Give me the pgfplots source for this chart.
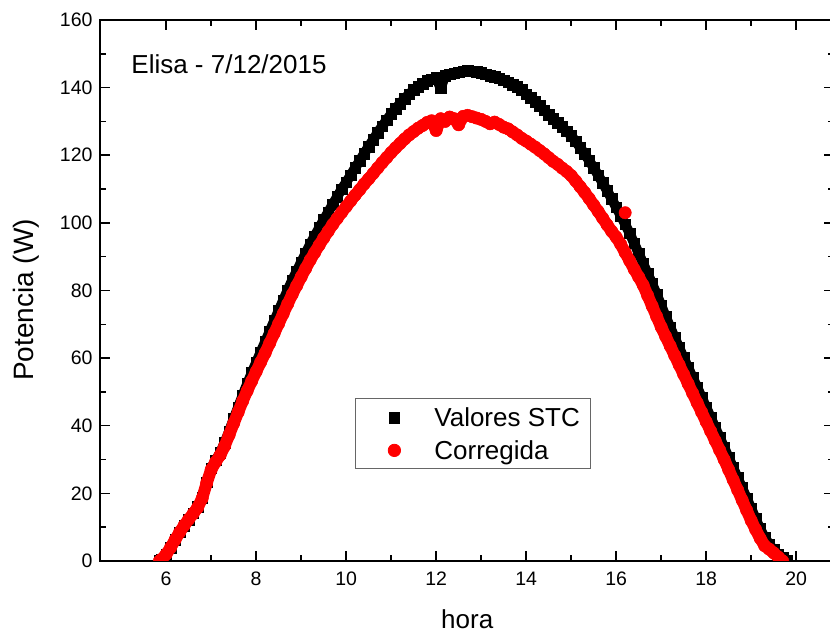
\documentclass[border=0pt]{standalone}
\usepackage{fontspec}
\setmainfont{Liberation Sans}
\usepackage{pgfplots}
\pgfplotsset{compat=1.18}
\usepackage{pgfplotstable}

\pgfplotstableread{
h p
5.85 0
5.9 0.5
6.0 2
6.1 4
6.2 6.3
6.3 8.5
6.4 10.5
6.5 12.3
6.6 14.1
6.7 16
6.8 18.8
6.9 23.3
7.0 27.4
7.1 29.8
7.2 32
7.3 35
7.4 38.4
7.5 42
7.6 45.5
7.7 49
7.8 52.4
7.9 55.6
8.0 58.7
8.1 61.8
8.2 64.8
8.3 67.9
8.4 71
8.5 74
8.6 77.1
8.7 80.1
8.8 83
8.9 85.7
9.0 88.4
9.1 91
9.2 93.7
9.3 96.1
9.4 98.5
9.5 100.9
9.6 103.1
9.7 105.5
9.8 107.7
9.9 110
10.0 112
10.1 114.1
10.2 116.3
10.3 118.3
10.4 120.5
10.5 122.6
10.6 124.6
10.7 126.7
10.8 128.6
10.9 130.4
11.0 132.2
11.1 133.8
11.2 135.3
11.3 136.8
11.4 138.1
11.5 139.3
11.6 140.3
11.7 141.2
11.8 142
11.9 142.5
12.0 143
12.1 139.8
12.2 143.6
12.3 144
12.4 144.3
12.5 144.6
12.6 144.8
12.7 145
12.8 144.9
12.9 144.7
13.0 144.4
13.1 144
13.2 143.6
13.3 143.2
13.4 142.8
13.5 142.2
13.6 141.6
13.7 140.9
13.8 140.2
13.9 139.3
14.0 138.1
14.1 137
14.2 135.8
14.3 134.6
14.4 133.3
14.5 132
14.6 130.8
14.7 129.6
14.8 128.4
14.9 127.1
15.0 125.8
15.1 124.1
15.2 122.3
15.3 120.4
15.4 118.4
15.5 116.3
15.6 114.1
15.7 111.8
15.8 109.5
15.9 107.1
16.0 104.6
16.1 102.2
16.2 99.6
16.3 96.9
16.4 94.0
16.5 91
16.6 88
16.7 85
16.8 82
16.9 78.9
17.0 75.6
17.1 72.3
17.2 69.2
17.3 66.1
17.4 63.1
17.5 60.1
17.6 57.2
17.7 54.3
17.8 51.4
17.9 48.4
18.0 45.5
18.1 42.5
18.2 39.5
18.3 36.6
18.4 33.6
18.5 30.6
18.6 27.6
18.7 24.6
18.8 21.6
18.9 18.6
19.0 15.6
19.1 12.5
19.2 9.5
19.3 7
19.4 5
19.5 3.3
19.6 2
19.7 1
19.8 0
}\stc

\pgfplotstableread{
h p
5.85 0
5.9 0.5
6.0 2
6.1 4
6.2 6.3
6.3 8.5
6.4 10.5
6.5 12.3
6.6 14
6.7 15.8
6.8 18.5
6.9 23
7.0 27
7.1 29.3
7.2 31.3
7.3 34
7.4 37.3
7.5 40.7
7.6 44
7.7 47.3
7.8 50.3
7.9 53.2
8.0 56
8.1 58.8
8.2 61.5
8.3 64.4
8.4 67.3
8.5 70.2
8.6 73.1
8.7 76
8.8 78.8
8.9 81.4
9.0 84
9.1 86.5
9.2 89
9.3 91.2
9.4 93.4
9.5 95.5
9.6 97.5
9.7 99.5
9.8 101.3
9.9 103.1
10.0 104.8
10.1 106.5
10.2 108.2
10.3 109.8
10.4 111.5
10.5 113
10.6 114.6
10.7 116.2
10.8 117.8
10.9 119.3
11.0 120.8
11.1 122.2
11.2 123.5
11.3 124.8
11.4 126
11.5 127
11.6 128
11.7 128.8
11.8 129.7
11.9 130.2
12.0 127.3
12.1 130.8
12.2 130
12.3 131.3
12.4 130.8
12.5 129
12.6 131.5
12.7 131.8
12.8 131.4
12.9 131
13.0 130.6
13.1 130
13.2 129.3
13.3 129.8
13.4 129.1
13.5 128.3
13.6 127.8
13.7 126.9
13.8 126
13.9 125
14.0 124.2
14.1 123.3
14.2 122.4
14.3 121.4
14.4 120.4
14.5 119.3
14.6 118.2
14.7 117.3
14.8 116.2
14.9 115.2
15.0 114
15.1 112.4
15.2 110.7
15.3 109
15.4 107.2
15.5 105.3
15.6 103.4
15.7 101.4
15.8 99.4
15.9 97.5
16.0 95.8
16.1 93.7
16.2 91.2
16.3 88.8
16.4 86.3
16.5 84
16.6 81.6
16.7 78.5
16.8 75.4
16.9 72.3
17.0 69.2
17.1 66.4
17.2 63.6
17.3 60.8
17.4 58
17.5 55.2
17.6 52.4
17.7 49.6
17.8 46.8
17.9 44
18.0 41.2
18.1 38.4
18.2 35.6
18.3 32.8
18.4 30
18.5 27
18.6 24
18.7 21
18.8 18
18.9 15
19.0 12
19.1 9.3
19.2 6.7
19.3 4.5
19.4 3.5
19.5 2.4
19.6 1.2
19.7 0
}\corr

\begin{document}
\begin{tikzpicture}
\begin{axis}[
  at={(100pt,78pt)}, anchor=south west,
  scale only axis, width=734.4pt, height=541pt,
  xmin=4.53, xmax=20.85, ymin=0, ymax=160,
  xtick={6,8,...,20}, ytick={0,20,...,160},
  minor x tick num=1, minor y tick num=1,
  tick align=inside,
  major tick length=10pt, minor tick length=6pt,
  tick style={black, line width=1.5pt},
  axis line style={line width=1.8pt},
  /pgf/number format/assume math mode=true,
  tick label style={font=\fontsize{19.5}{20}\selectfont},
  xticklabel style={yshift=-7.5pt},
  yticklabel style={xshift=-4pt},
  xlabel={hora}, ylabel={Potencia (W)},
  xlabel style={font=\fontsize{26}{30}\selectfont, at={(axis description cs:0.5,0)}, anchor=base, yshift=-68pt},
  ylabel style={font=\fontsize{28}{32}\selectfont, at={(axis description cs:-0.0912,0.4824)}, anchor=base},
  clip mode=individual, clip marker paths=true,
  legend cell align=left,
  legend style={at={(rel axis cs:0.3472,0.3013)}, anchor=north west,
    draw=black!60, line width=0.8pt,
    font=\fontsize{26}{30}\selectfont,
    inner xsep=0pt, inner ysep=2.5pt, row sep=0pt, column sep=0pt,
    nodes={inner sep=0pt}},
  legend image code/.code={
    \path[draw=none, fill=none] (-39pt,-15.5pt) rectangle (40pt,17pt);
    \draw[#1] plot coordinates {(0pt,0pt)};
  },
]
\addplot[black, line width=10pt, line join=round, forget plot] table[x=h,y=p]{\stc};
\addplot[only marks, mark=square*, mark size=5.3pt, black] table[x=h,y=p]{\stc};
\addlegendentry{Valores STC\hspace*{10.6pt}}
\addplot[red, line width=12pt, line join=round, forget plot] table[x=h,y=p]{\corr};
\addplot[only marks, mark=*, mark size=6.2pt, red] table[x=h,y=p]{\corr};
\addlegendentry{Corregida\hspace*{10.6pt}}
\addplot[only marks, mark=*, mark size=6.2pt, red, forget plot] coordinates {(16.2,103)};
\node[anchor=base west, font=\fontsize{26}{30}\selectfont] at (rel axis cs:0.038,0.902) {Elisa - 7/12/2015};
\end{axis}
\pgfresetboundingbox
\path (0pt,0pt) rectangle (830pt,639pt);
\end{tikzpicture}
\end{document}
